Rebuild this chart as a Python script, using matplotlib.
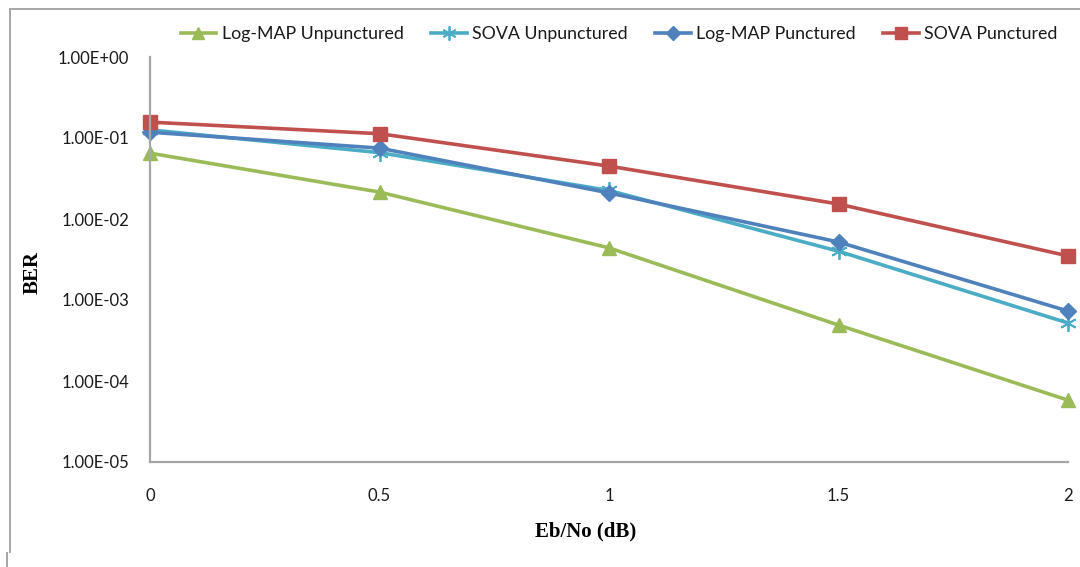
import matplotlib
matplotlib.use("Agg")
import matplotlib.pyplot as plt
from matplotlib.lines import Line2D
from matplotlib.ticker import FixedLocator, FuncFormatter

# Eb/No values (dB)
ebno = [0, 0.5, 1, 1.5, 2]

# Bit error rates for each decoder configuration
ber_logmap_unpunct = [0.065, 0.0215, 0.0044, 4.9e-4, 5.8e-5]
ber_sova_unpunct = [0.126, 0.066, 0.0225, 0.0040, 5.2e-4]
ber_logmap_punct = [0.118, 0.075, 0.021, 0.0052, 7.3e-4]
ber_sova_punct = [0.157, 0.113, 0.045, 0.0153, 0.0035]

series_names = ["Log-MAP Unpunctured", "SOVA Unpunctured",
                "Log-MAP Punctured", "SOVA Punctured"]

x_ticks = [0, 0.5, 1, 1.5, 2]
x_tick_labels = ["0", "0.5", "1", "1.5", "2"]
y_ticks = [1e-5, 1e-4, 1e-3, 1e-2, 1e-1, 1e0]

tick_font = "Lato"
title_font = "Liberation Serif"

fig = plt.figure(figsize=(10.8, 5.67), dpi=100)
ax = fig.add_axes([150 / 1080, 1 - 462 / 567, 918 / 1080, 405 / 567])

styles = [
    dict(color="#9BBB59", marker="^", markersize=10),
    dict(color="#4BACC6", marker=(6, 2, 0), markersize=12, markeredgewidth=1.3),
    dict(color="#4F81BD", marker="D", markersize=8),
    dict(color="#C0504D", marker="s", markersize=10),
]
data = [ber_logmap_unpunct, ber_sova_unpunct, ber_logmap_punct, ber_sova_punct]

handles = []
for name, vals, st in zip(series_names, data, styles):
    h, = ax.plot(ebno, vals, linewidth=2.6, label=name, clip_on=False,
                 markeredgecolor=st["color"], **st)
    handles.append(h)

ax.set_yscale("log")
ax.set_ylim(1e-5, 1e0)
ax.set_xlim(0, 2)
ax.yaxis.set_major_locator(FixedLocator(y_ticks))
ax.yaxis.set_minor_locator(FixedLocator([]))
ax.yaxis.set_major_formatter(FuncFormatter(lambda v, p: f"{v:.2E}"))
ax.set_xticks(x_ticks)
ax.set_xticklabels(x_tick_labels)

ax.tick_params(axis="both", which="both", length=0, labelsize=12,
               labelcolor="#1a1a1a")
ax.tick_params(axis="y", pad=15)
ax.tick_params(axis="x", pad=19)
for lab in ax.get_xticklabels() + ax.get_yticklabels():
    lab.set_fontfamily(tick_font)

for side in ("top", "right"):
    ax.spines[side].set_visible(False)
for side in ("left", "bottom"):
    ax.spines[side].set_color("#A6A6A6")
    ax.spines[side].set_linewidth(1.6)

fig.text(586 / 1080, 1 - 531 / 567, "Eb/No (dB)", ha="center", va="center",
         fontsize=15, fontweight="bold", family=title_font)
fig.text(33 / 1080, 1 - 272 / 567, "BER", ha="center", va="center",
         rotation=90, fontsize=15, fontweight="bold", family=title_font)

leg = fig.legend(handles=handles, loc="center", ncol=4, frameon=False,
                 bbox_to_anchor=(619 / 1080, 1 - 34 / 567),
                 prop={"family": tick_font, "size": 12.8},
                 handlelength=2.0, handletextpad=0.3, columnspacing=1.55,
                 markerscale=0.85)
for t in leg.get_texts():
    t.set_color("#1a1a1a")

# outer chart border
border = dict(color="#A6A6A6", linewidth=1.4, transform=fig.transFigure)
fig.add_artist(Line2D([10 / 1080, 1], [1 - 9 / 567, 1 - 9 / 567], **border))
fig.add_artist(Line2D([10 / 1080, 10 / 1080], [1 - 9 / 567, 1 - 552 / 567], **border))
fig.add_artist(Line2D([7 / 1080, 7 / 1080], [1 - 553 / 567, 0], **border))

fig.savefig("out.png", dpi=100)
